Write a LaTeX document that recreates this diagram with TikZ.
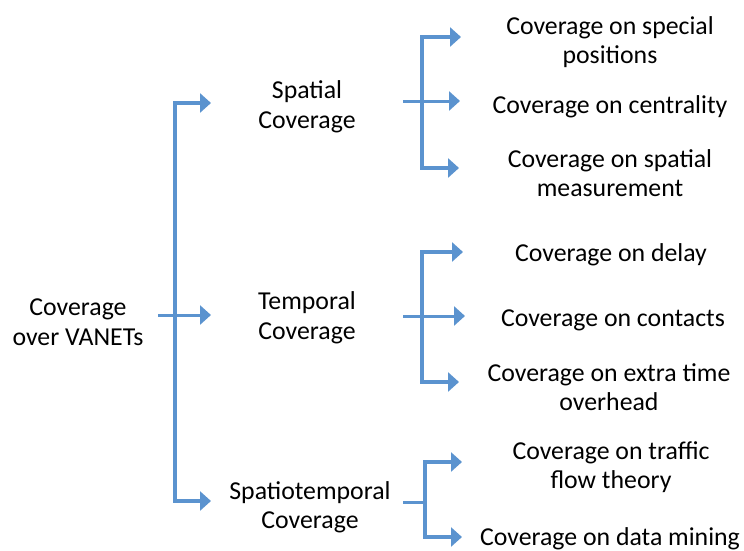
\documentclass[tikz,border=0pt]{standalone}
\usepackage{fontspec}
\setmainfont{Carlito}
\usetikzlibrary{arrows.meta}
\definecolor{linkblue}{HTML}{5B93CF}
\begin{document}
\begin{tikzpicture}[x=1pt,y=-1pt,
  lbl/.style={align=center,inner sep=0pt,font=\fontsize{25.8}{29.5}\selectfont},
  tip/.style={-{Triangle[length=11pt,width=19pt]}},
  bracket/.style={draw=linkblue,line width=4pt,line join=miter,
    {Triangle[length=11pt,width=19pt]}-{Triangle[length=11pt,width=19pt]}},
  stem/.style={draw=linkblue,line width=3pt}]
\useasboundingbox (0,0) rectangle (744,550);

% tree labels
\node[lbl] (root) at (78,322) {Coverage\\over VANETs};
\node[lbl] (spa) at (307,107) {Spatial\\Coverage};
\node[lbl] (tem) at (307,318) {Temporal\\Coverage};
\node[lbl] (spt) at (310,507) {Spatiotemporal\\Coverage};
\node[lbl] (s1) at (610,42) {Coverage on special\\positions};
\node[lbl] (s2) at (610,106.5) {Coverage on centrality};
\node[lbl] (s3) at (610,173) {Coverage on spatial\\measurement};
\node[lbl] (t1) at (611,254.5) {Coverage on delay};
\node[lbl] (t2) at (613,320.5) {Coverage on contacts};
\node[lbl] (t3) at (609,387) {Coverage on extra time\\overhead};
\node[lbl] (u1) at (611,467) {Coverage on traffic\\flow theory};
\node[lbl] (u2) at (610,538.5) {Coverage on data mining};

% root bracket
\coordinate (r0) at (158,315);
\coordinate (rtop) at (211,103);
\coordinate (rmid) at (211,315);
\coordinate (rbot) at (211,501);
\path[bracket] (rtop) -- (175,103) -- (175,501) -- (rbot);
\path[stem,tip] (r0) -- (rmid);

% spatial bracket
\coordinate (a0) at (403,101);
\coordinate (atop) at (461,37);
\coordinate (amid) at (460,101);
\coordinate (abot) at (459,168);
\path[bracket] (atop) -- (422,37) -- (422,168) -- (abot);
\path[stem,tip] (a0) -- (amid);

% temporal bracket
\coordinate (b0) at (403,316);
\coordinate (btop) at (463,252);
\coordinate (bmid) at (465,316);
\coordinate (bbot) at (459,382);
\path[bracket] (btop) -- (422,252) -- (422,382) -- (bbot);
\path[stem,tip] (b0) -- (bmid);

% spatiotemporal bracket
\coordinate (c0) at (403,502);
\coordinate (ctop) at (462,462);
\coordinate (cbot) at (462,537);
\path[bracket] (ctop) -- (425,462) -- (425,537) -- (cbot);
\path[stem] (c0) -- (425,502);
\end{tikzpicture}
\end{document}
